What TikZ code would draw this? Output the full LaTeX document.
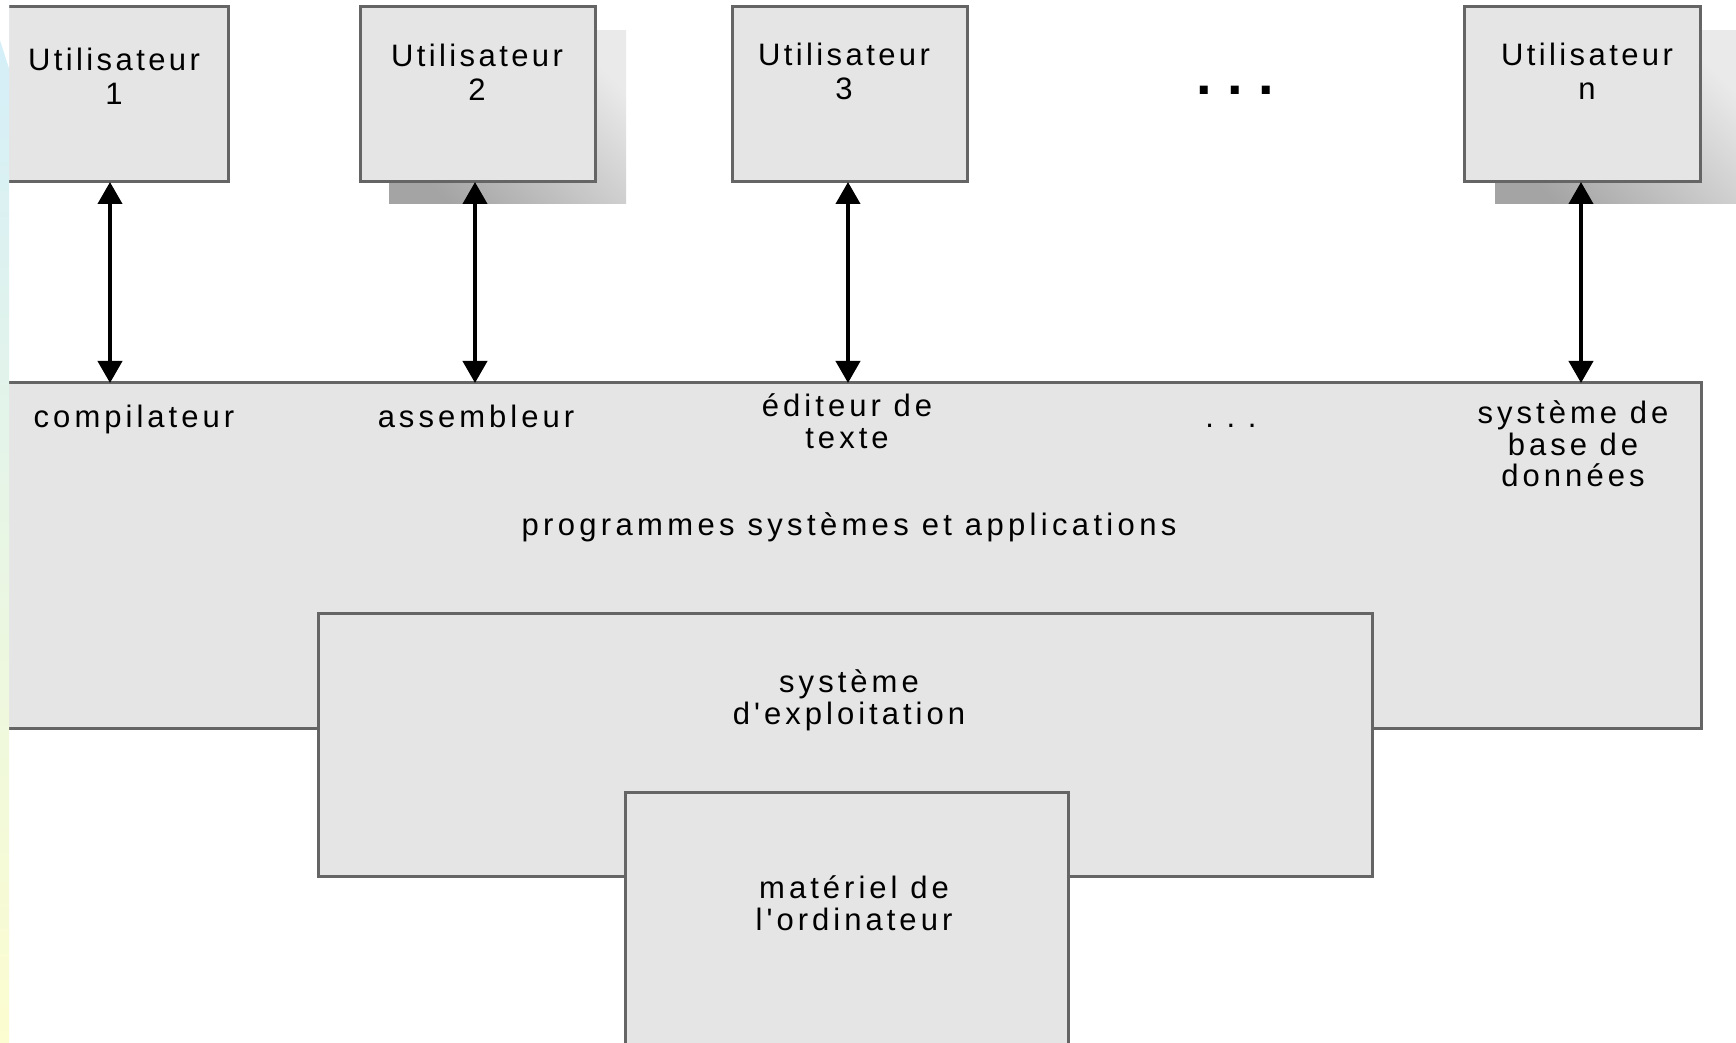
\documentclass[tikz,border=0pt]{standalone}
\usepackage{fontspec}
\setmainfont{Liberation Sans}
\newfontfamily\lbfont{Liberation Sans}[LetterSpace=13]
\newfontfamily\ubfont{Liberation Sans}[LetterSpace=11]
\usetikzlibrary{arrows.meta}

\definecolor{boxfill}{HTML}{E5E5E5}
\definecolor{boxline}{HTML}{656565}
\definecolor{shadowdark}{HTML}{A4A4A4}
\definecolor{shadowlight}{HTML}{EAEAEA}
\definecolor{stripblue}{HTML}{D3EEFA}
\definecolor{stripgreen}{HTML}{E6F5E4}
\definecolor{stripyellow}{HTML}{FCFDD0}

\begin{document}
\begin{tikzpicture}[x=0.5pt,y=-0.5pt,
  box/.style={rectangle, draw=boxline, fill=boxfill, line width=1.5pt,
              inner sep=0pt, outer sep=0pt},
  userbox/.style={box, minimum width=117.5pt, minimum height=87.5pt},
  % multi-line labels are placed by the baseline of their last line
  ulabel/.style={font={\ubfont\fontsize{15.5}{17}\selectfont}, align=center,
                 inner sep=0pt, anchor=base},
  lbl/.style={font={\lbfont\fontsize{15.5}{15.75}\selectfont}, align=center,
              inner sep=0pt, anchor=base},
  shadow/.style={top color=shadowdark, bottom color=shadowlight, shading angle=135},
  link/.style={{Triangle[width=12pt,length=11pt]}-{Triangle[width=12pt,length=11pt]},
               line width=2pt, black}
]
% page
\fill[white] (0,0) rectangle (1736,1043);
\useasboundingbox (0,0) rectangle (1736,1043);

% drop shadows behind two of the user boxes
\shade[shadow] (389,31) rectangle (626,204);
\shade[shadow] (1495,31) rectangle (1736,204);

% user boxes
\node[userbox] (u1) at (110.5,94.5) {};
\node[userbox] (u2) at (477.5,94.5) {};
\node[userbox] (u3) at (849.5,94.5) {};
\node[userbox, minimum width=118pt] (un) at (1582,94.5) {};

\node[ulabel] (t1) at (114,105) {Utilisateur\\1};
\node[ulabel] (t2) at (477,101) {Utilisateur\\2};
\node[ulabel] (t3) at (844,100) {Utilisateur\\3};
\node[ulabel] (tn) at (1587,100) {Utilisateur\\n};

\node[inner sep=0pt, anchor=base, font={\bfseries\fontsize{28}{30}\selectfont}]
  (udots) at (1235,95) {.\ .\ .};

% nested layers
\node[box, minimum width=855.5pt, minimum height=172.5pt] (prog) at (845.5,555.5) {};
\node[box, minimum width=527pt, minimum height=131.5pt] (os) at (845,744.5) {};
\node[box, minimum width=221.5pt, minimum height=139pt] (hw) at (846.5,931) {};

% layer labels
\node[lbl] (compil) at (134,428) {compilateur};
\node[lbl] (assemb) at (476,428) {assembleur};
\node[lbl] (editeur) at (847,448) {éditeur de\\texte};
\node[lbl] (pdots) at (1231,428) {.\ .\ .};
\node[lbl, font={\lbfont\fontsize{15.5}{16}\selectfont}] (sgbd) at (1573,487) {système de\\base de\\données};
\node[lbl, font={\fontspec{Liberation Sans}[LetterSpace=14]\fontsize{15.5}{15.75}\selectfont}]
  (progtxt) at (849,535) {programmes systèmes et applications};
\node[lbl] (ostxt) at (849,724) {système\\d'exploitation};
\node[lbl, font={\lbfont\fontsize{15.5}{16}\selectfont}] (hwtxt) at (854,930) {matériel de\\l'ordinateur};

% user <-> program links
\draw[link] ([xshift=-0.25pt]u1.south) -- ([xshift=-0.25pt]u1.south |- prog.north);
\draw[link] ([xshift=-1.25pt]u2.south) -- ([xshift=-1.25pt]u2.south |- prog.north);
\draw[link] ([xshift=-0.75pt]u3.south) -- ([xshift=-0.75pt]u3.south |- prog.north);
\draw[link] ([xshift=-0.5pt]un.south) -- ([xshift=-0.5pt]un.south |- prog.north);

% decorative strip along the left edge
\shade[top color=stripblue, middle color=stripgreen, bottom color=stripyellow]
  (0,0) rectangle (9,1043);
\fill[white] (0,0) -- (9,0) -- (9,68) -- (0,40) -- cycle;
\end{tikzpicture}
\end{document}
